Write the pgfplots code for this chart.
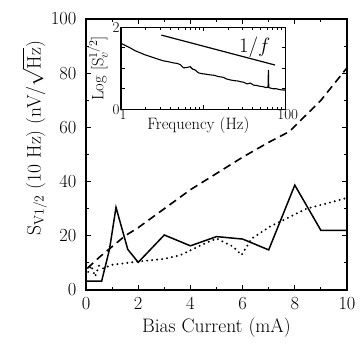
\documentclass[border=0pt]{standalone}
\usepackage{fontspec}
\usepackage{pgfplots}
\pgfplotsset{compat=1.18}
\begin{document}
\begin{tikzpicture}
\path[use as bounding box] (-86pt,-59pt) rectangle (274pt,290pt);
\begin{axis}[
  scale only axis, width=261pt, height=271pt,
  at={(0pt,0pt)}, anchor=south west,
  xmin=0, xmax=10, ymin=0, ymax=100,
  xtick={0,2,4,6,8,10}, ytick={0,20,40,60,80,100},
  minor x tick num=1, minor y tick num=1,
  tick align=inside, major tick length=5pt, minor tick length=3pt,
  axis line style={line width=1.6pt},
  every tick/.style={line width=1.1pt, black},
  /pgf/number format/assume math mode=true,
  tick label style={font=\fontsize{18.5}{20}\selectfont},
  yticklabel style={xshift=-6pt},
  xticklabel style={yshift=-4pt},
  label style={font=\fontsize{19.5}{22}\selectfont},
  xlabel={Bias Current (mA)},
  ylabel={S\textsubscript{V1/2} (10 Hz) (nV/$\sqrt{\mathrm{Hz}}$)},
  ylabel style={at={(ticklabel cs:0.56)}},
  ylabel shift=-3pt,
  xlabel shift=1pt,
]
\addplot[black, line width=1.5pt] coordinates {
(0,3.3) (0.6,3.3) (0.9,15) (1.15,30.5) (1.6,15) (2.0,10.2) (3.0,20.3) (4.0,16.3) (5.0,19.7) (6.0,18.8) (7.0,14.8) (8.0,38.7) (9.0,22) (10,22)};
\addplot[black, line width=1.6pt, dash pattern=on 8pt off 5pt] coordinates {
(0.05,8) (0.5,12) (1,16) (1.5,20) (2,23) (3,30) (4,37) (5,43) (6,49) (7,54.5) (7.8,58.5) (9,70) (10,82)};
\addplot[black, line width=2.2pt, line cap=round, dash pattern=on 0pt off 5pt] coordinates {
(0,5) (0.2,9) (0.35,5) (0.5,9) (0.65,8) (1,9.3) (2,10.5) (3,11.5) (3.6,12.8) (4.56,17.2) (5,19) (5.64,16) (5.96,12.9) (6.35,19) (7.05,23.4) (8.45,30) (9.48,32.6) (10,34)};
\end{axis}
\begin{axis}[
  scale only axis, width=164.7pt, height=82pt,
  at={(35pt,180.7pt)}, anchor=south west,
  xmode=log, xmin=1, xmax=100, ymin=0, ymax=2,
  xtick={1,10,100}, xticklabels={1,,100},
  ytick={0,0.5,1,1.5,2}, yticklabels={0,,,,2},
  tick align=inside, major tick length=4pt, minor tick length=2.5pt,
  axis line style={line width=1.3pt},
  every tick/.style={line width=0.9pt, black},
  /pgf/number format/assume math mode=true,
  tick label style={font=\fontsize{15}{17}\selectfont},
  xticklabel style={yshift=3pt, xshift=2pt},
  yticklabel style={xshift=2pt},
  label style={font=\fontsize{16.5}{18}\selectfont},
  xlabel={Frequency (Hz)},
  xlabel style={at={(axis description cs:0.47,0)}, anchor=north, yshift=-4pt},
  ylabel={Log [S$_v^{1/2}$]},
  ylabel shift=-2pt,
]
\addplot[black, line width=1.1pt] coordinates {
(1,1.61) (1.12,1.56) (1.29,1.50) (1.48,1.43) (1.70,1.38) (1.95,1.33) (2.24,1.29) (2.57,1.25) (2.95,1.21) (3.31,1.18) (3.55,1.17) (3.98,1.15) (4.37,1.13) (4.79,1.12) (5.25,1.09) (5.75,1.01) (6.31,1.02) (6.92,1.04) (7.41,0.98) (7.94,0.96) (8.71,0.89) (9.55,0.87) (10.47,0.86) (12.0,0.84) (13.5,0.83) (15.1,0.80) (17.4,0.78) (19.1,0.74) (20.9,0.72) (23.4,0.70) (26.3,0.69) (28.8,0.67) (30.9,0.66) (33.9,0.62) (37.2,0.64) (40.7,0.59) (44.7,0.58) (49.0,0.56) (53.7,0.55) (57.5,0.53) (61.0,0.54) (61.7,0.96) (62.3,0.53) (64.6,0.52) (70.8,0.50) (77.6,0.50) (85.1,0.48) (93.3,0.47) (100,0.47)};
\addplot[black, line width=1.2pt] coordinates {(3.09,1.81) (74.1,1.08)};
\node[font=\fontsize{20}{22}\selectfont] at (axis cs:42,1.5) {$1/f$};
\end{axis}
\end{tikzpicture}
\end{document}
